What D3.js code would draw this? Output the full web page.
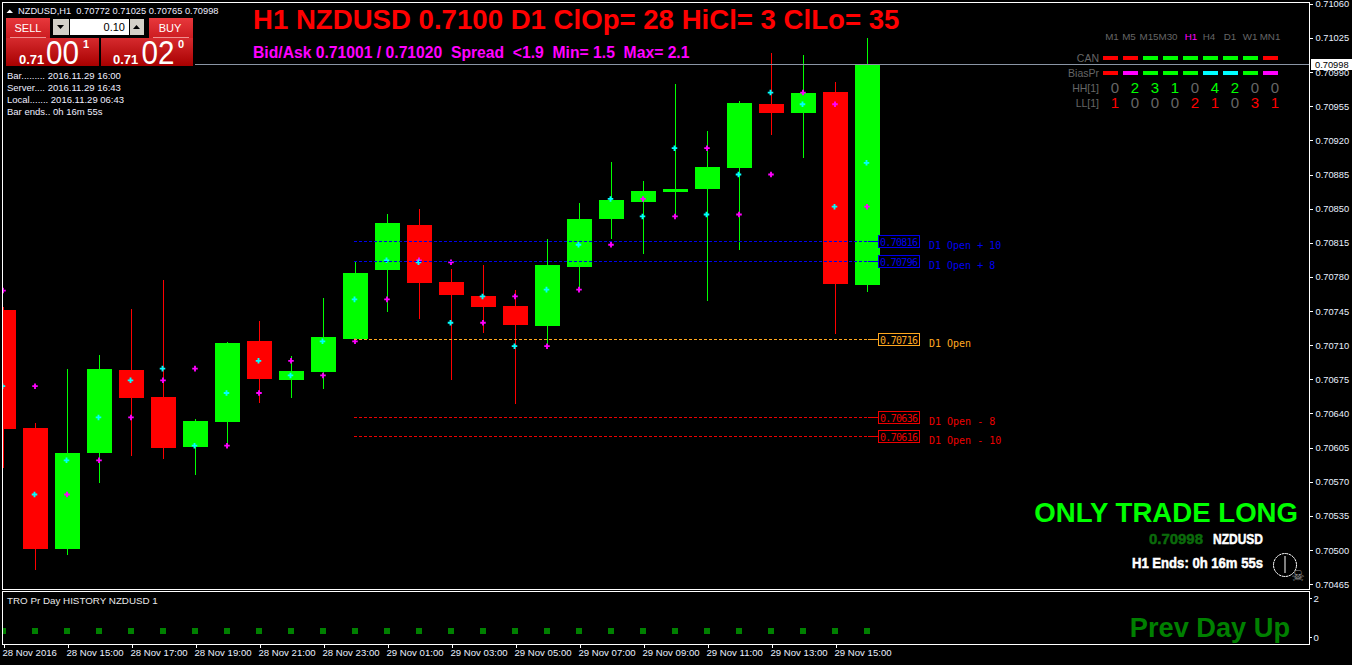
<!DOCTYPE html>
<html>
<head>
<meta charset="utf-8">
<title>NZDUSD,H1</title>
<script src="https://d3js.org/d3.v7.min.js"></script>
<style>
  html, body { margin: 0; padding: 0; background: #000; overflow: hidden; }
  svg { display: block; }
  text { font-family: "Liberation Sans", sans-serif; }
  .candle rect, .candle line, .crisp { shape-rendering: crispEdges; }
  .axis text { fill: #e8f0ff; font-size: 9.6px; font-family: "Liberation Sans", sans-serif; }
  .axis line { stroke: #fff; shape-rendering: crispEdges; }
  .axis path { display: none; }
  .mono { font-family: "DejaVu Sans Mono", monospace; font-size: 10px; }
</style>
</head>
<body>
<div id="chart"></div>
<script>
// the hourly bars
const times = ["28 Nov 13:00","28 Nov 14:00","28 Nov 15:00","28 Nov 16:00","28 Nov 17:00","28 Nov 18:00","28 Nov 19:00",
  "28 Nov 20:00","28 Nov 21:00","28 Nov 22:00","28 Nov 23:00","29 Nov 00:00","29 Nov 01:00","29 Nov 02:00","29 Nov 03:00",
  "29 Nov 04:00","29 Nov 05:00","29 Nov 06:00","29 Nov 07:00","29 Nov 08:00","29 Nov 09:00","29 Nov 10:00","29 Nov 11:00",
  "29 Nov 12:00","29 Nov 13:00","29 Nov 14:00","29 Nov 15:00","29 Nov 16:00"];
const opens = [0.70746,0.70625,0.70501,0.70600,0.70685,0.70657,0.70606,0.70631,0.70714,0.70674,0.70683,0.70716,0.70787,0.70833,
  0.70775,0.70760,0.70750,0.70730,0.70790,0.70839,0.70857,0.70867,0.70870,0.70892,0.70957,0.70948,0.70970,0.70772];
const highs = [0.70749,0.70630,0.70686,0.70700,0.70747,0.70777,0.70634,0.70713,0.70735,0.70699,0.70758,0.70796,0.70845,0.70850,
  0.70788,0.70792,0.70767,0.70819,0.70856,0.70898,0.70878,0.70978,0.70930,0.70960,0.71010,0.71008,0.70980,0.71025];
const lows = [0.70584,0.70480,0.70495,0.70569,0.70596,0.70593,0.70577,0.70605,0.70651,0.70656,0.70665,0.70715,0.70744,0.70737,
  0.70674,0.70723,0.70650,0.70708,0.70766,0.70819,0.70804,0.70842,0.70755,0.70808,0.70926,0.70902,0.70721,0.70765];
const closes = [0.70624,0.70501,0.70599,0.70686,0.70656,0.70605,0.70632,0.70712,0.70675,0.70684,0.70718,0.70784,0.70835,0.70774,
  0.70761,0.70749,0.70731,0.70792,0.70839,0.70859,0.70868,0.70870,0.70893,0.70958,0.70948,0.70969,0.70773,0.70998];

// the two dot series drawn over the candles
const cyanDots = [0.70668,0.70557,0.70592,0.70636,0.70674,0.70686,0.70607,0.70661,0.70694,0.70679,0.70714,0.70757,0.70797,0.70795,
  0.70733,0.70760,0.70709,0.70767,0.70813,0.70860,0.70842,0.70912,0.70844,0.70885,0.70969,0.70957,0.70852,0.70897];
const magentaDots = [0.70766,0.70668,0.70557,0.70592,0.70636,0.70674,0.70686,0.70607,0.70661,0.70694,0.70679,0.70714,0.70757,0.70797,
  0.70795,0.70733,0.70760,0.70709,0.70767,0.70813,0.70860,0.70842,0.70912,0.70844,0.70885,0.70969,0.70957,0.70852];

// price axis and time axis labels
const priceTicks = [0.71060,0.71025,0.70990,0.70955,0.70920,0.70885,0.70850,0.70815,0.70780,0.70745,0.70710,0.70675,0.70640,0.70605,0.70570,0.70535,0.70500,0.70465];
const timeTicks = [0,2,4,6,8,10,12,14,16,18,20,22,24,26];
const timeLabels = ["28 Nov 2016","28 Nov 15:00","28 Nov 17:00","28 Nov 19:00","28 Nov 21:00","28 Nov 23:00","29 Nov 01:00",
  "29 Nov 03:00","29 Nov 05:00","29 Nov 07:00","29 Nov 09:00","29 Nov 11:00","29 Nov 13:00","29 Nov 15:00"];

// daily open levels
const levelPrices = [0.70816,0.70796,0.70716,0.70636,0.70616];
const levelNames = ["D1 Open + 10","D1 Open + 8","D1 Open","D1 Open - 8","D1 Open - 10"];
const levelKinds = ["up","up","open","down","down"];

// history sub window
const historyValues = [0.3,0.3,0.3,0.3,0.3,0.3,0.3,0.3,0.3,0.3,0.3,0.3,0.3,0.3,0.3,0.3,0.3,0.3,0.3,0.3,0.3,0.3,0.3,0.3,0.3,0.3,0.3,0.3];
const historyTicks = [0,2];

// timeframe table, top right
const timeframes = ["M1","M5","M15","M30","H1","H4","D1","W1","MN1"];
const canRow = ["red","red","green","green","green","green","green","green","red"];
const biasRow = ["red","magenta","green","green","green","cyan","cyan","green","magenta"];
const hhRow = [0,2,3,1,0,4,2,0,0];
const llRow = [1,0,0,0,2,1,0,3,1];
const infoLines = ["Bar......... 2016.11.29 16:00","Server.... 2016.11.29 16:43","Local....... 2016.11.29 06:43","Bar ends.. 0h 16m 55s"];

const bidPrice = 0.70998;

const svg = d3.select("#chart").append("svg").attr("width", 1352).attr("height", 665);
const defs = svg.append("defs");

// clip the candles to the main window so the first one gets cut off at the border
defs.append("clipPath").attr("id", "mainClip").append("rect")
  .attr("x", 3).attr("y", 3).attr("width", 1306).attr("height", 586);
defs.append("clipPath").attr("id", "subClip").append("rect")
  .attr("x", 3).attr("y", 592).attr("width", 1306).attr("height", 52);

function addGradient(id, top, bottom) {
  const g = defs.append("linearGradient").attr("id", id).attr("x1", 0).attr("x2", 0).attr("y1", 0).attr("y2", 1);
  g.append("stop").attr("offset", "0%").attr("stop-color", top);
  g.append("stop").attr("offset", "100%").attr("stop-color", bottom);
}
addGradient("btn", "#e8383c", "#cc1c20");
addGradient("panel", "#d62a2e", "#a80000");

// scales
const x = d3.scaleLinear().domain([0, times.length - 1]).range([3.5, 867.5]);
const y = d3.scaleLinear().domain([0.70465, 0.71060]).range([584.2, 3.8]);
const ySub = d3.scaleLinear().domain([0, 2]).range([637, 598]);

// window frames
svg.append("rect").attr("class", "crisp").attr("x", 2.5).attr("y", 2.5).attr("width", 1306.5).attr("height", 586.5)
  .attr("fill", "none").attr("stroke", "#fff");
svg.append("rect").attr("class", "crisp").attr("x", 2.5).attr("y", 591.5).attr("width", 1306.5).attr("height", 52.5)
  .attr("fill", "none").attr("stroke", "#fff");

const main = svg.append("g").attr("clip-path", "url(#mainClip)");

// level lines
const levelColor = {up: "#0000ee", open: "#ffa820", down: "#ee0000"};
const levels = svg.append("g").selectAll("g").data(levelPrices).enter().append("g");
levels.append("line").attr("class", "crisp")
  .attr("x1", 354).attr("x2", 868)
  .attr("y1", d => Math.floor(y(d)) + 0.5).attr("y2", d => Math.floor(y(d)) + 0.5)
  .attr("stroke", (d, i) => levelColor[levelKinds[i]])
  .attr("stroke-dasharray", "3,2");

// candles
const candles = main.append("g").attr("class", "candle").selectAll("g").data(times).enter().append("g");
const candleColor = i => closes[i] >= opens[i] ? "#00ff00" : "#ff0000";
candles.append("line")
  .attr("x1", (d, i) => x(i)).attr("x2", (d, i) => x(i))
  .attr("y1", (d, i) => y(highs[i])).attr("y2", (d, i) => y(lows[i]))
  .attr("stroke", (d, i) => candleColor(i));
candles.append("rect")
  .attr("x", (d, i) => x(i) - 12.5)
  .attr("width", 25)
  .attr("y", (d, i) => y(Math.max(opens[i], closes[i])))
  .attr("height", (d, i) => Math.abs(y(opens[i]) - y(closes[i])))
  .attr("fill", (d, i) => candleColor(i));

// the bid line goes over the candles
svg.append("line").attr("class", "crisp").attr("x1", 195).attr("x2", 1309)
  .attr("y1", Math.floor(y(bidPrice)) + 0.5).attr("y2", Math.floor(y(bidPrice)) + 0.5)
  .attr("stroke", "#8a95a5");

// level stubs and boxes sit on top of the last candle
levels.append("line").attr("class", "crisp")
  .attr("x1", 868).attr("x2", 878)
  .attr("y1", d => Math.floor(y(d)) + 0.5).attr("y2", d => Math.floor(y(d)) + 0.5)
  .attr("stroke", (d, i) => levelColor[levelKinds[i]]);
levels.append("rect").attr("class", "crisp")
  .attr("x", 878.5).attr("width", 41).attr("height", 12)
  .attr("y", d => Math.floor(y(d)) - 5.5)
  .attr("fill", "#000")
  .attr("stroke", (d, i) => levelColor[levelKinds[i]]);
levels.append("text").attr("class", "mono")
  .attr("x", 880).attr("y", d => Math.floor(y(d)) + 4.5)
  .attr("textLength", 38)
  .attr("fill", (d, i) => levelColor[levelKinds[i]])
  .text(d => d.toFixed(5));
levels.append("text").attr("class", "mono")
  .attr("x", 929).attr("y", d => Math.floor(y(d)) + 7.5)
  .attr("fill", (d, i) => levelColor[levelKinds[i]])
  .text((d, i) => levelNames[i]);

// dots
const dot = d3.symbol().type(d3.symbolCross).size(17);
main.append("g").selectAll("path").data(magentaDots).enter().append("path")
  .attr("d", dot).attr("transform", (d, i) => `translate(${x(i) - 0.5},${y(d)})`).attr("fill", "#ff00ff");
main.append("g").selectAll("path").data(cyanDots).enter().append("path")
  .attr("d", dot).attr("transform", (d, i) => `translate(${x(i) - 1},${y(d)})`).attr("fill", "#00ffff");

// price axis, the label under the current price tag stays as in the terminal
const yAxis = svg.append("g").attr("class", "axis").attr("transform", "translate(1309.5,0)")
  .call(d3.axisRight(y).tickValues(priceTicks).tickSize(3).tickPadding(3).tickFormat(d3.format(".5f")));
yAxis.selectAll("text").attr("dy", "0.32em").attr("font-size", null).style("font-size", "9.3px");

// current price tag
svg.append("rect").attr("class", "crisp").attr("x", 1311).attr("y", 59).attr("width", 41).attr("height", 11).attr("fill", "#fff");
svg.append("text").attr("x", 1315).attr("y", 68).attr("fill", "#000").attr("font-size", 9.3).text(bidPrice.toFixed(5));

// sub window
svg.append("g").attr("clip-path", "url(#subClip)").selectAll("rect").data(historyValues).enter().append("rect")
  .attr("class", "crisp")
  .attr("x", (d, i) => x(i) - 3.5).attr("width", 6).attr("height", 6)
  .attr("y", d => ySub(d) - 3).attr("fill", "#008000");
const subAxis = svg.append("g").attr("class", "axis").attr("transform", "translate(1309.5,0)")
  .call(d3.axisRight(ySub).tickValues(historyTicks).tickSize(2).tickPadding(2).tickFormat(d3.format("d")));
subAxis.selectAll("text").attr("dy", "0.32em");
svg.append("text").attr("x", 7).attr("y", 604).attr("fill", "#e8e8e8").attr("font-size", 9.8).text("TRO Pr Day HISTORY NZDUSD 1");

// time axis
const xAxis = svg.append("g").attr("class", "axis").attr("transform", "translate(0,644.5)")
  .call(d3.axisBottom(x).tickValues(timeTicks).tickSize(3).tickPadding(2).tickFormat((d, i) => timeLabels[i]));
xAxis.selectAll("text").attr("text-anchor", "start").attr("x", -1.5);

// big headline texts
function bold(text, xPos, yPos, size, color, anchor) {
  return svg.append("text").attr("x", xPos).attr("y", yPos).attr("fill", color)
    .attr("font-size", size).attr("font-weight", "bold")
    .attr("text-anchor", anchor || "start")
    .style("white-space", "pre").text(text);
}
// squeezed and thickened, these three are a heavy narrow font in the reference
function heavy(text, xRight, yPos, width, color) {
  return bold(text, xRight, yPos, 15, color, "end")
    .attr("textLength", width).attr("lengthAdjust", "spacingAndGlyphs")
    .attr("stroke", color).attr("stroke-width", 0.5);
}
bold("H1 NZDUSD 0.7100 D1 ClOp= 28 HiCl= 3 ClLo= 35", 253, 29, 27.6, "#ff0000");
bold("Bid/Ask 0.71001 / 0.71020  Spread  <1.9  Min= 1.5  Max= 2.1", 253, 58, 15.7, "#ff00ff");
bold("ONLY TRADE LONG", 1298, 522, 27.6, "#00ff00", "end");
bold("Prev Day Up", 1290, 637, 27.2, "#008000", "end");
heavy("0.70998", 1203, 544, 54, "#0b6b0b");
heavy("NZDUSD", 1263, 544, 50, "#fff");
heavy("H1 Ends: 0h 16m 55s", 1263, 568, 131, "#fff");

// clock and skull
svg.append("circle").attr("cx", 1285).attr("cy", 565).attr("r", 11.5).attr("fill", "none").attr("stroke", "#fff").attr("stroke-dasharray", "3,0.6");
svg.append("line").attr("x1", 1285).attr("x2", 1285).attr("y1", 556).attr("y2", 573).attr("stroke", "#fff");
svg.append("text").attr("x", 1298).attr("y", 581).attr("text-anchor", "middle").attr("fill", "#999")
  .attr("font-size", 15).style("font-family", '"DejaVu Sans", sans-serif').text("\u2620");

// chart title
svg.append("path").attr("d", "M6.5,13 L13,13 L9.75,9.5 Z").attr("fill", "#fff");
svg.append("text").attr("x", 18).attr("y", 14).attr("fill", "#eef").attr("font-size", 9.3)
  .style("white-space", "pre").text("NZDUSD,H1  0.70772 0.71025 0.70765 0.70998");

// one click trading panel
function button(xPos, yPos, w, h, fill) {
  svg.append("rect").attr("class", "crisp").attr("x", xPos).attr("y", yPos).attr("width", w).attr("height", h).attr("fill", fill);
}
button(6, 18, 44, 20, "url(#btn)");
button(149, 18, 44, 20, "url(#btn)");
button(6, 38, 93, 28, "url(#panel)");
button(101, 38, 92, 28, "url(#panel)");
button(53, 19, 16, 16, "#d4d0c8");
button(70, 19, 59, 16, "#fff");
button(130, 19, 14, 16, "#d4d0c8");
svg.append("line").attr("class", "crisp").attr("x1", 10).attr("x2", 46).attr("y1", 37.5).attr("y2", 37.5).attr("stroke", "#f09090");
svg.append("line").attr("class", "crisp").attr("x1", 153).attr("x2", 189).attr("y1", 37.5).attr("y2", 37.5).attr("stroke", "#f09090");
svg.append("path").attr("d", "M57,25 L64,25 L60.5,29 Z").attr("fill", "#000");
svg.append("path").attr("d", "M133,29 L140,29 L136.5,25 Z").attr("fill", "#000");
svg.append("text").attr("x", 125).attr("y", 31).attr("text-anchor", "end").attr("fill", "#000").attr("font-size", 11).text("0.10");
svg.append("text").attr("x", 28).attr("y", 32).attr("text-anchor", "middle").attr("fill", "#fff").attr("font-size", 11).text("SELL");
svg.append("text").attr("x", 170).attr("y", 32).attr("text-anchor", "middle").attr("fill", "#fff").attr("font-size", 11).text("BUY");
bold("0.71", 19, 64, 13, "#fff");
bold("0.71", 113, 64, 13, "#fff");
svg.append("text").attr("x", 46).attr("y", 64).attr("fill", "#fff").attr("font-size", 33)
  .attr("textLength", 33).attr("lengthAdjust", "spacingAndGlyphs").text("00");
svg.append("text").attr("x", 141.5).attr("y", 64).attr("fill", "#fff").attr("font-size", 33)
  .attr("textLength", 33).attr("lengthAdjust", "spacingAndGlyphs").text("02");
bold("1", 83, 48, 11, "#fff");
bold("0", 178, 48, 11, "#fff");

svg.append("g").selectAll("text").data(infoLines).enter().append("text")
  .attr("x", 7).attr("y", (d, i) => 79 + i * 12).attr("fill", "#eef").attr("font-size", 9.5).text(d => d);

// timeframe table
const tableColor = {red: "#ff0000", green: "#00ff00", magenta: "#ff00ff", cyan: "#00ffff"};
const tableX = d3.scalePoint().domain(timeframes).range([1110, 1270]);
const tfCenters = [1112,1129,1149,1168,1191,1209,1230,1250,1270];
const grayText = "#666";
svg.append("g").selectAll("text").data(timeframes).enter().append("text")
  .attr("x", (d, i) => tfCenters[i]).attr("y", 40).attr("text-anchor", "middle").attr("font-size", 9.8)
  .attr("fill", d => d === "H1" ? "#ff00ff" : grayText).text(d => d);
[["CAN", canRow, 56], ["BiasPr", biasRow, 71]].forEach(function (row) {
  svg.append("text").attr("x", 1099).attr("y", row[2] + 6).attr("text-anchor", "end").attr("font-size", 10.5).attr("fill", grayText).text(row[0]);
  svg.append("g").selectAll("rect").data(row[1]).enter().append("rect").attr("class", "crisp")
    .attr("x", (d, i) => tableX(timeframes[i]) - 7).attr("y", row[2]).attr("width", 15).attr("height", 4)
    .attr("fill", d => tableColor[d]);
});
[["HH[1]", hhRow, 93, "#00ff00"], ["LL[1]", llRow, 108, "#ff0000"]].forEach(function (row) {
  svg.append("text").attr("x", 1099).attr("y", row[2] - 1).attr("text-anchor", "end").attr("font-size", 10.5).attr("fill", grayText).text(row[0]);
  svg.append("g").selectAll("text").data(row[1]).enter().append("text")
    .attr("x", (d, i) => tableX(timeframes[i]) + 5).attr("y", row[2]).attr("text-anchor", "middle").attr("font-size", 15)
    .attr("fill", d => d === 0 ? grayText : row[3]).text(d => d);
});
</script>
</body>
</html>
